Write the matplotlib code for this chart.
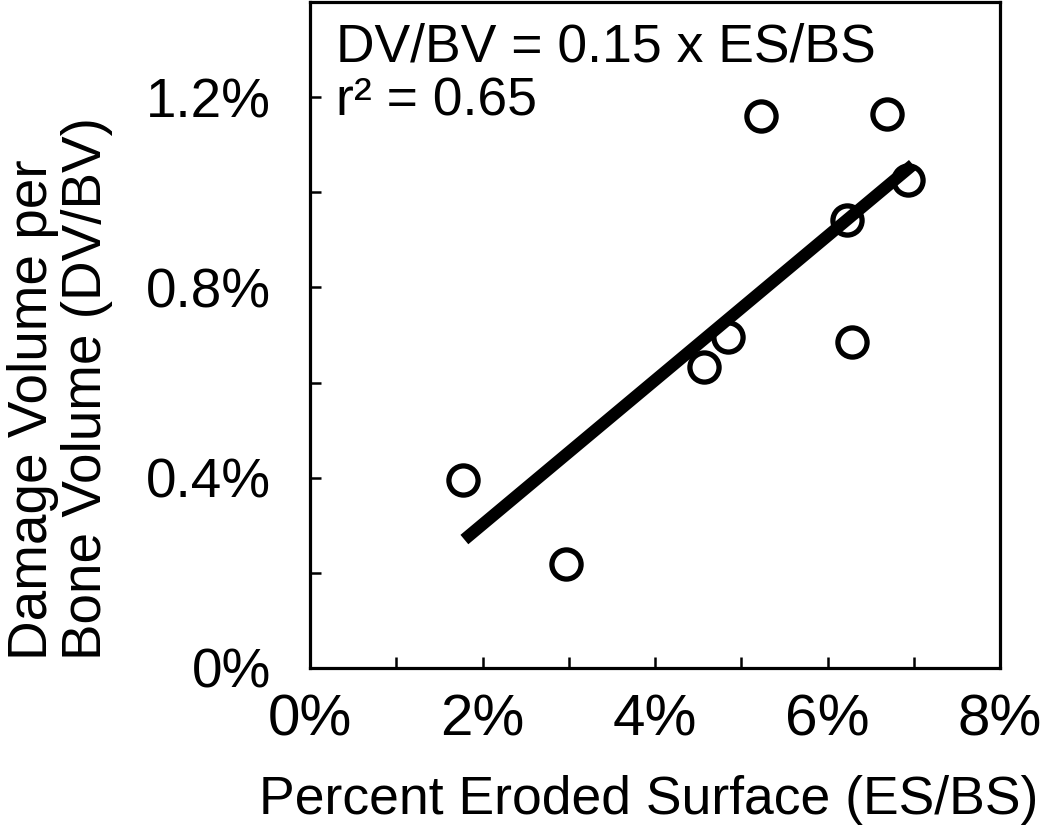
import matplotlib
matplotlib.use("Agg")
import matplotlib.pyplot as plt

# percent eroded surface (ES/BS) vs damage volume per bone volume (DV/BV)
es_bs = [1.77, 2.97, 4.57, 4.85, 5.23, 6.23, 6.28, 6.69, 6.93]
dv_bv = [0.396, 0.218, 0.632, 0.695, 1.16, 0.942, 0.685, 1.164, 1.026]

# regression line endpoints
fit_x = [1.79, 6.99]
fit_y = [0.27, 1.058]

x_ticks = [0, 1, 2, 3, 4, 5, 6, 7, 8]
x_ticklabels = ["0%", "", "2%", "", "4%", "", "6%", "", "8%"]
y_ticks = [0, 0.2, 0.4, 0.6, 0.8, 1.0, 1.2, 1.4]
y_ticklabels = ["0%", "", "0.4%", "", "0.8%", "", "1.2%", ""]

plt.rcParams["font.family"] = ["Liberation Sans", "DejaVu Sans"]

W, H = 1050, 833
fig = plt.figure(figsize=(W / 100, H / 100), dpi=100)
ax = fig.add_axes([310 / W, (H - 668) / H, 690 / W, 666 / H])

ax.plot(fit_x, fit_y, color="black", linewidth=8.8, solid_capstyle="butt", zorder=2)
ax.plot(es_bs, dv_bv, "o", markersize=21, markerfacecolor="none",
        markeredgecolor="black", markeredgewidth=3.8, zorder=3)

ax.set_xlim(0, 8)
ax.set_ylim(0, 1.4)
ax.set_xticks(x_ticks)
ax.set_xticklabels(x_ticklabels)
ax.set_yticks(y_ticks)
ax.set_yticklabels(y_ticklabels)
ax.tick_params(direction="in", length=8, width=1.8)
ax.tick_params(axis="x", labelsize=42, pad=18)
ax.tick_params(axis="y", labelsize=39.5, pad=28)

for s in ax.spines.values():
    s.set_linewidth(2.3)

ax.text(0.30, 1.305, "DV/BV = 0.15 x ES/BS", fontsize=38.5, va="center", ha="left")
ax.text(0.30, 1.19, "r² = 0.65", fontsize=38.5, va="center", ha="left")

fig.text(649 / W, (H - 800) / H, "Percent Eroded Surface (ES/BS)", fontsize=38.5,
         ha="center", va="center")
fig.text(60 / W, (H - 660) / H, "Damage Volume per\nBone Volume (DV/BV)", fontsize=39.5,
         rotation=90, ha="center", va="bottom", multialignment="left", linespacing=1.05)

plt.savefig("out.png", dpi=100)
plt.close()
